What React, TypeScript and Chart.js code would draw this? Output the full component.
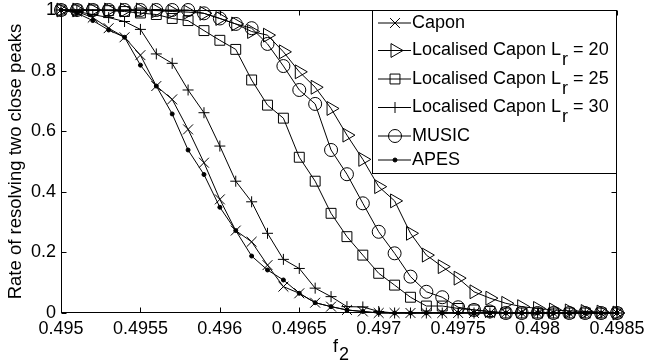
import { useEffect, useRef } from 'react';
import { Chart, registerables } from 'chart.js';

Chart.register(...registerables);

// Frequency grid f2
const fValues = [
  0.495, 0.4951, 0.4952, 0.4953, 0.4954, 0.4955, 0.4956, 0.4957, 0.4958, 0.4959,
  0.496, 0.4961, 0.4962, 0.4963, 0.4964, 0.4965, 0.4966, 0.4967, 0.4968, 0.4969,
  0.497, 0.4971, 0.4972, 0.4973, 0.4974, 0.4975, 0.4976, 0.4977, 0.4978, 0.4979,
  0.498, 0.4981, 0.4982, 0.4983, 0.4984, 0.4985,
];

const xTicks = [0.495, 0.4955, 0.496, 0.4965, 0.497, 0.4975, 0.498, 0.4985];
const yTicks = [0, 0.2, 0.4, 0.6, 0.8, 1];

const capon = [
  1, 0.995, 0.975, 0.94, 0.91, 0.851, 0.749, 0.705, 0.606, 0.496,
  0.375, 0.272, 0.235, 0.158, 0.087, 0.065, 0.034, 0.021, 0.01, 0.005,
  0, 0, 0, 0, 0, 0, 0, 0, 0, 0,
  0, 0, 0, 0, 0, 0,
];

const locCapon20 = [
  1, 1, 1, 1, 1, 1, 0.998, 0.995, 0.993, 0.989,
  0.972, 0.954, 0.929, 0.917, 0.862, 0.796, 0.745, 0.675, 0.587, 0.507,
  0.417, 0.37, 0.263, 0.191, 0.153, 0.115, 0.07, 0.049, 0.032, 0.021,
  0.015, 0.01, 0.007, 0.005, 0.003, 0,
];

const locCapon25 = [
  1, 1, 1, 0.998, 0.995, 0.99, 0.985, 0.972, 0.965, 0.932,
  0.9, 0.87, 0.769, 0.686, 0.643, 0.514, 0.435, 0.329, 0.252, 0.191,
  0.131, 0.092, 0.052, 0.023, 0.023, 0.015, 0.01, 0.005, 0, 0,
  0, 0, 0, 0, 0, 0,
];

const locCapon30 = [
  1, 0.995, 0.985, 0.975, 0.962, 0.936, 0.855, 0.824, 0.736, 0.661,
  0.551, 0.435, 0.367, 0.263, 0.177, 0.147, 0.082, 0.054, 0.021, 0.02,
  0.005, 0, 0, 0, 0, 0, 0, 0, 0, 0,
  0, 0, 0, 0, 0, 0,
];

const music = [
  1, 1, 1, 1, 1, 1, 1, 1, 1, 0.989,
  0.972, 0.954, 0.94, 0.888, 0.815, 0.736, 0.69, 0.538, 0.458, 0.362,
  0.268, 0.197, 0.12, 0.07, 0.052, 0.019, 0.01, 0.005, 0, 0,
  0, 0, 0, 0, 0, 0,
];

const apes = [
  1, 0.99, 0.965, 0.934, 0.91, 0.818, 0.749, 0.657, 0.538, 0.457,
  0.349, 0.272, 0.188, 0.142, 0.109, 0.065, 0.034, 0.021, 0.01, 0.005,
  0, 0, 0, 0, 0, 0, 0, 0, 0, 0,
  0, 0, 0, 0, 0, 0,
];

const FONT = "'Liberation Sans', Arial, sans-serif";

type Marker = { style: string; radius: number; rotation: number; fill: boolean };

const series: { label: string; sub?: string; tail?: string; data: number[]; marker: Marker }[] = [
  { label: 'Capon', data: capon, marker: { style: 'crossRot', radius: 7, rotation: 0, fill: false } },
  { label: 'Localised Capon L', sub: 'r', tail: ' = 20', data: locCapon20, marker: { style: 'triangle', radius: 8, rotation: 90, fill: false } },
  { label: 'Localised Capon L', sub: 'r', tail: ' = 25', data: locCapon25, marker: { style: 'rect', radius: 7, rotation: 0, fill: false } },
  { label: 'Localised Capon L', sub: 'r', tail: ' = 30', data: locCapon30, marker: { style: 'cross', radius: 5.5, rotation: 0, fill: false } },
  { label: 'MUSIC', data: music, marker: { style: 'circle', radius: 6.5, rotation: 0, fill: false } },
  { label: 'APES', data: apes, marker: { style: 'circle', radius: 2, rotation: 0, fill: true } },
];

function drawMarker(ctx: CanvasRenderingContext2D, m: Marker, x: number, y: number) {
  const r = m.radius;
  ctx.beginPath();
  if (m.style === 'circle') {
    ctx.arc(x, y, r, 0, Math.PI * 2);
    if (m.fill) ctx.fill();
    ctx.stroke();
    return;
  }
  if (m.style === 'cross') {
    ctx.moveTo(x - r, y); ctx.lineTo(x + r, y);
    ctx.moveTo(x, y - r); ctx.lineTo(x, y + r);
  } else if (m.style === 'crossRot') {
    const d = r * Math.SQRT1_2;
    ctx.moveTo(x - d, y - d); ctx.lineTo(x + d, y + d);
    ctx.moveTo(x - d, y + d); ctx.lineTo(x + d, y - d);
  } else if (m.style === 'rect') {
    const s = r * Math.SQRT1_2;
    ctx.rect(x - s, y - s, 2 * s, 2 * s);
  } else if (m.style === 'triangle') {
    let rad = (m.rotation * Math.PI) / 180;
    ctx.moveTo(x + Math.sin(rad) * r, y - Math.cos(rad) * r);
    rad += (2 * Math.PI) / 3;
    ctx.lineTo(x + Math.sin(rad) * r, y - Math.cos(rad) * r);
    rad += (2 * Math.PI) / 3;
    ctx.lineTo(x + Math.sin(rad) * r, y - Math.cos(rad) * r);
    ctx.closePath();
  }
  ctx.stroke();
}

const framePlugin = {
  id: 'framePlugin',
  beforeDatasetsDraw(chart: any) {
    const { ctx, chartArea: a, scales } = chart;
    ctx.save();
    ctx.strokeStyle = '#000';
    ctx.lineWidth = 1;
    const L = Math.round(a.left) + 0.5;
    const R = Math.round(a.right) - 0.5;
    const T = Math.round(a.top) + 0.5;
    const B = Math.round(a.bottom) - 0.5;
    ctx.strokeRect(L, T, R - L, B - T);
    const tl = 5;
    ctx.beginPath();
    xTicks.forEach((v) => {
      const px = Math.round(scales.x.getPixelForValue(v)) + 0.5;
      ctx.moveTo(px, B); ctx.lineTo(px, B - tl);
      ctx.moveTo(px, T); ctx.lineTo(px, T + tl);
    });
    yTicks.forEach((v) => {
      const py = Math.round(scales.y.getPixelForValue(v)) + 0.5;
      ctx.moveTo(L, py); ctx.lineTo(L + tl, py);
      ctx.moveTo(R, py); ctx.lineTo(R - tl, py);
    });
    ctx.stroke();

    // axis titles
    ctx.fillStyle = '#000';
    ctx.font = `18.5px ${FONT}`;
    ctx.textAlign = 'center';
    ctx.textBaseline = 'middle';
    ctx.save();
    ctx.translate(16, (a.top + a.bottom) / 2);
    ctx.rotate(-Math.PI / 2);
    ctx.fillText('Rate of resolving two close peaks', 0, 0);
    ctx.restore();
    ctx.textAlign = 'left';
    ctx.textBaseline = 'alphabetic';
    ctx.font = `18px ${FONT}`;
    ctx.fillText('f', 333, 352);
    ctx.fillText('2', 339, 360);
    ctx.restore();
  },
  afterDatasetsDraw(chart: any) {
    const { ctx, chartArea: a } = chart;
    ctx.save();
    const bx = 372.5, by = Math.round(a.top) + 0.5;
    const bw = Math.round(a.right) - 0.5 - bx, bh = 163;
    ctx.fillStyle = '#fff';
    ctx.fillRect(bx, by, bw, bh);
    ctx.strokeStyle = '#000';
    ctx.lineWidth = 1;
    ctx.strokeRect(bx, by, bw, bh);
    const rows = [23, 50.5, 79, 107.5, 136, 160];
    series.forEach((s, i) => {
      const y = rows[i];
      ctx.strokeStyle = '#000';
      ctx.fillStyle = '#000';
      ctx.lineWidth = 1;
      ctx.beginPath();
      ctx.moveTo(378, y); ctx.lineTo(411, y);
      ctx.stroke();
      drawMarker(ctx, s.marker, 395, y);
      ctx.textAlign = 'left';
      ctx.textBaseline = 'middle';
      ctx.font = `18px ${FONT}`;
      let x = 412;
      ctx.fillText(s.label, x, y);
      x += ctx.measureText(s.label).width;
      if (s.sub) {
        ctx.fillText(s.sub, x + 1, y + 10);
        x += ctx.measureText(s.sub).width + 1;
        ctx.fillText(s.tail || '', x, y);
      }
    });
    ctx.restore();
  },
};

export default function App() {
  const ref = useRef<HTMLCanvasElement | null>(null);
  useEffect(() => {
    if (!ref.current) return;
    const fmt = (v: number) => String(Number(v.toFixed(4)));
    const chart = new Chart(ref.current, {
      type: 'line',
      data: {
        labels: fValues,
        datasets: series.map((s) => ({
          label: s.label,
          data: s.data.map((v, i) => ({ x: fValues[i], y: v })),
          borderColor: '#000',
          backgroundColor: s.marker.fill ? '#000' : 'rgba(0,0,0,0)',
          borderWidth: 1,
          pointStyle: s.marker.style as any,
          pointRadius: s.marker.radius,
          pointRotation: s.marker.rotation,
          pointBorderColor: '#000',
          pointBackgroundColor: s.marker.fill ? '#000' : 'rgba(0,0,0,0)',
          pointBorderWidth: 1,
          pointHoverRadius: s.marker.radius,
          tension: 0,
          fill: false,
          clip: false as any,
        })),
      },
      options: {
        animation: false,
        responsive: false,
        devicePixelRatio: 1,
        events: [],
        layout: { padding: { left: 0, top: 10, right: 29, bottom: 0 } },
        plugins: { legend: { display: false }, tooltip: { enabled: false }, title: { display: false } },
        scales: {
          x: {
            type: 'linear',
            min: 0.495,
            max: 0.4985,
            grid: { display: false, drawTicks: false },
            border: { display: false },
            afterBuildTicks: (scale: any) => { scale.ticks = xTicks.map((v) => ({ value: v })); },
            afterFit: (scale: any) => {
              scale.height = 51;
              scale.paddingLeft = 0;
              scale.paddingRight = 0;
            },
            ticks: {
              color: '#000',
              font: { family: FONT, size: 18 },
              padding: 5,
              maxRotation: 0,
              autoSkip: false,
              callback: (v: any) => fmt(Number(v)),
            },
          },
          y: {
            type: 'linear',
            min: 0,
            max: 1,
            grid: { display: false, drawTicks: false },
            border: { display: false },
            afterBuildTicks: (scale: any) => { scale.ticks = yTicks.map((v) => ({ value: v })); },
            afterFit: (scale: any) => {
              scale.width = 61;
              scale.paddingTop = 0;
              scale.paddingBottom = 0;
            },
            ticks: {
              color: '#000',
              font: { family: FONT, size: 18 },
              padding: 5,
              autoSkip: false,
              callback: (v: any) => fmt(Number(v)),
            },
          },
        },
      },
      plugins: [framePlugin],
    });
    return () => chart.destroy();
  }, []);
  return (
    <div style={{ position: 'fixed', left: 0, top: 0, width: 646, height: 364, background: '#fff' }}>
      <canvas ref={ref} width={646} height={364} style={{ width: 646, height: 364, display: 'block' }} />
    </div>
  );
}
